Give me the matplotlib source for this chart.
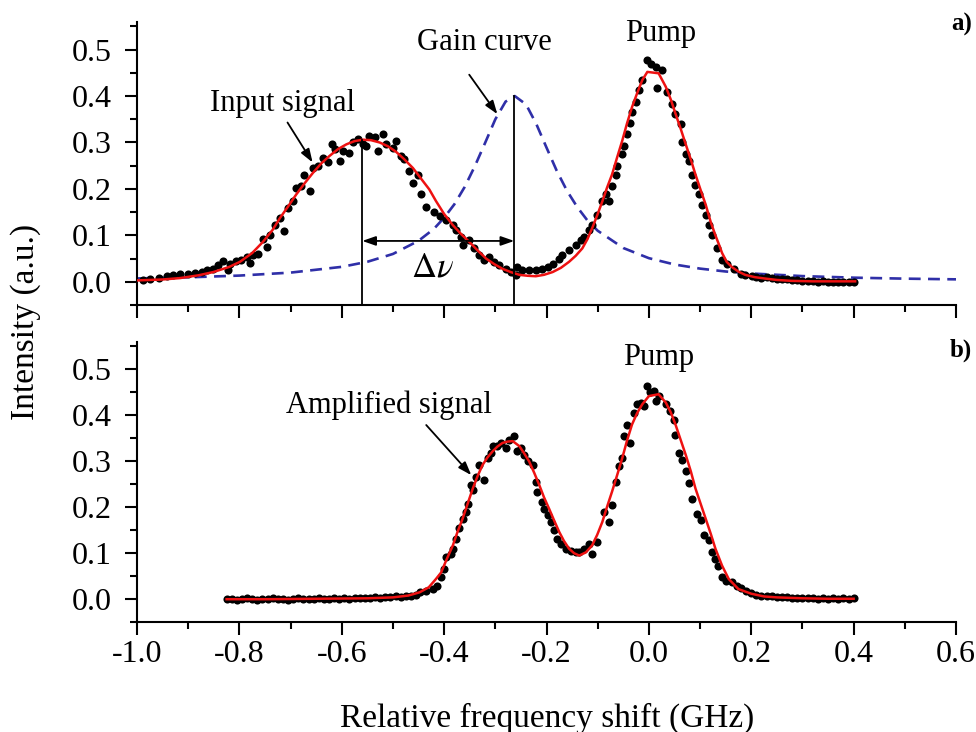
import numpy as np
import matplotlib.pyplot as plt
from matplotlib.ticker import MultipleLocator

plt.rcParams['font.family'] = ['Liberation Serif', 'DejaVu Serif']
plt.rcParams['mathtext.fontset'] = 'stix'

# ---- panel a: measured points (input signal + pump) ----
a_x = [-0.988, -0.975, -0.958, -0.942, -0.929, -0.916, -0.900, -0.887, -0.874, -0.864,
       -0.851, -0.842, -0.832, -0.822, -0.819, -0.806, -0.796, -0.786, -0.780, -0.773,
       -0.764, -0.754, -0.747, -0.741, -0.731, -0.721, -0.713, -0.705, -0.695, -0.689,
       -0.679, -0.673, -0.663, -0.656, -0.647, -0.637, -0.627, -0.620, -0.614, -0.604,
       -0.598, -0.585, -0.578, -0.569, -0.559, -0.552, -0.546, -0.536, -0.530, -0.520,
       -0.513, -0.500, -0.494, -0.484, -0.478, -0.468, -0.461, -0.452, -0.445, -0.435,
       -0.419, -0.409, -0.396, -0.383, -0.377, -0.367, -0.364, -0.351, -0.341, -0.331,
       -0.322, -0.312, -0.302, -0.292, -0.279, -0.270, -0.260, -0.257, -0.247, -0.234,
       -0.221, -0.208, -0.198, -0.188, -0.175, -0.169, -0.156, -0.143, -0.133, -0.127,
       -0.117, -0.111, -0.101, -0.091, -0.084, -0.078, -0.072, -0.065, -0.062, -0.052,
       -0.049, -0.042, -0.036, -0.033, -0.026, -0.019, -0.013, -0.003, 0.005, 0.014,
       0.016, 0.026, 0.036, 0.045, 0.052, 0.062, 0.065, 0.072, 0.078, 0.084,
       0.091, 0.097, 0.104, 0.111, 0.117, 0.123, 0.133, 0.143, 0.153, 0.166,
       0.179, 0.188, 0.201, 0.210, 0.220, 0.230, 0.240, 0.250, 0.260, 0.270,
       0.280, 0.290, 0.300, 0.310, 0.320, 0.330, 0.340, 0.350, 0.360, 0.370,
       0.380, 0.390, 0.400]
a_y = [0.003, 0.007, 0.009, 0.012, 0.014, 0.017, 0.017, 0.020, 0.022, 0.025,
       0.028, 0.036, 0.044, 0.025, 0.039, 0.044, 0.046, 0.054, 0.041, 0.057,
       0.059, 0.093, 0.075, 0.101, 0.122, 0.137, 0.109, 0.159, 0.173, 0.202,
       0.206, 0.231, 0.195, 0.246, 0.249, 0.267, 0.257, 0.296, 0.285, 0.260,
       0.282, 0.278, 0.300, 0.307, 0.296, 0.293, 0.315, 0.311, 0.282, 0.318,
       0.296, 0.289, 0.304, 0.271, 0.264, 0.238, 0.213, 0.231, 0.188, 0.162,
       0.151, 0.141, 0.133, 0.122, 0.112, 0.097, 0.079, 0.090, 0.072, 0.057,
       0.046, 0.054, 0.043, 0.036, 0.028, 0.021, 0.014, 0.032, 0.025, 0.025,
       0.025, 0.028, 0.032, 0.039, 0.050, 0.057, 0.068, 0.079, 0.090, 0.097,
       0.112, 0.122, 0.144, 0.173, 0.188, 0.173, 0.206, 0.231, 0.249, 0.275,
       0.293, 0.318, 0.343, 0.365, 0.387, 0.412, 0.434, 0.478, 0.470, 0.463,
       0.417, 0.456, 0.409, 0.383, 0.362, 0.340, 0.300, 0.275, 0.260, 0.231,
       0.209, 0.188, 0.166, 0.144, 0.122, 0.101, 0.072, 0.046, 0.039, 0.028,
       0.017, 0.014, 0.012, 0.011, 0.009, 0.010, 0.008, 0.007, 0.006, 0.005,
       0.004, 0.003, 0.002, 0.002, 0.001, 0.000, 0.001, 0.000, -0.001, 0.000,
       -0.001, -0.001, 0.000]

# ---- panel a: fitted curve ----
a_fit_x = [-1.000, -0.950, -0.916, -0.880, -0.851, -0.820, -0.799, -0.775, -0.754, -0.735,
           -0.721, -0.705, -0.689, -0.672, -0.656, -0.640, -0.624, -0.607, -0.591, -0.575,
           -0.559, -0.543, -0.526, -0.510, -0.494, -0.478, -0.461, -0.445, -0.429, -0.416,
           -0.400, -0.383, -0.367, -0.351, -0.334, -0.318, -0.302, -0.286, -0.270, -0.253,
           -0.237, -0.221, -0.205, -0.188, -0.172, -0.156, -0.143, -0.130, -0.120, -0.111,
           -0.101, -0.091, -0.082, -0.072, -0.062, -0.052, -0.043, -0.033, -0.023, -0.013,
           -0.003, 0.019, 0.033, 0.043, 0.052, 0.062, 0.072, 0.082, 0.091, 0.101,
           0.111, 0.121, 0.130, 0.137, 0.143, 0.152, 0.162, 0.175, 0.188, 0.207,
           0.227, 0.250, 0.279, 0.320, 0.360, 0.403]
a_fit_y = [0.003, 0.005, 0.008, 0.014, 0.021, 0.032, 0.043, 0.062, 0.086, 0.112,
           0.137, 0.162, 0.188, 0.213, 0.235, 0.255, 0.271, 0.286, 0.296, 0.303,
           0.306, 0.305, 0.300, 0.292, 0.280, 0.264, 0.245, 0.222, 0.199, 0.174,
           0.146, 0.122, 0.103, 0.086, 0.067, 0.050, 0.038, 0.028, 0.021, 0.015,
           0.013, 0.012, 0.015, 0.021, 0.030, 0.043, 0.056, 0.072, 0.092, 0.115,
           0.143, 0.173, 0.202, 0.231, 0.268, 0.304, 0.340, 0.376, 0.406, 0.434,
           0.452, 0.449, 0.420, 0.392, 0.362, 0.330, 0.296, 0.263, 0.231, 0.198,
           0.166, 0.128, 0.100, 0.080, 0.062, 0.043, 0.032, 0.022, 0.015, 0.010,
           0.007, 0.004, 0.002, 0.001, 0.001, 0.001]

# ---- panel a: gain curve ----
gain_x = [-1.00, -0.90, -0.80, -0.70, -0.60, -0.55, -0.50, -0.45, -0.42, -0.40,
          -0.38, -0.36, -0.34, -0.32, -0.30, -0.28, -0.262, -0.24, -0.22, -0.20,
          -0.18, -0.16, -0.14, -0.12, -0.10, -0.05, 0.00, 0.05, 0.10, 0.15,
          0.20, 0.30, 0.40, 0.50, 0.60]
gain_y = [0.0072, 0.0096, 0.0134, 0.0198, 0.0322, 0.0431, 0.0600, 0.0883, 0.114, 0.138,
          0.167, 0.204, 0.249, 0.299, 0.350, 0.388, 0.400, 0.382, 0.340, 0.289,
          0.239, 0.196, 0.161, 0.132, 0.110, 0.0728, 0.0509, 0.0373, 0.0284, 0.0222,
          0.0179, 0.0123, 0.0089, 0.0068, 0.0053]

# ---- panel b: measured points (amplified signal + pump) ----
b_x = [-0.825, -0.815, -0.805, -0.795, -0.785, -0.775, -0.765, -0.755, -0.745, -0.735,
       -0.725, -0.715, -0.705, -0.695, -0.685, -0.675, -0.665, -0.655, -0.645, -0.635,
       -0.625, -0.615, -0.605, -0.595, -0.585, -0.575, -0.565, -0.555, -0.545, -0.535,
       -0.525, -0.515, -0.505, -0.495, -0.485, -0.475, -0.465, -0.455, -0.448, -0.435,
       -0.422, -0.413, -0.406, -0.400, -0.396, -0.387, -0.383, -0.377, -0.370, -0.364,
       -0.357, -0.354, -0.348, -0.344, -0.338, -0.331, -0.322, -0.315, -0.309, -0.305,
       -0.296, -0.289, -0.279, -0.273, -0.263, -0.257, -0.250, -0.244, -0.237, -0.227,
       -0.221, -0.218, -0.208, -0.205, -0.198, -0.192, -0.185, -0.179, -0.172, -0.162,
       -0.153, -0.143, -0.136, -0.127, -0.117, -0.111, -0.101, -0.088, -0.078, -0.072,
       -0.065, -0.058, -0.052, -0.049, -0.042, -0.036, -0.029, -0.023, -0.016, -0.010,
       -0.003, 0.003, 0.010, 0.013, 0.019, 0.033, 0.042, 0.049, 0.052, 0.058,
       0.065, 0.072, 0.078, 0.084, 0.094, 0.101, 0.107, 0.117, 0.123, 0.130,
       0.136, 0.143, 0.150, 0.162, 0.172, 0.180, 0.190, 0.200, 0.210, 0.220,
       0.230, 0.240, 0.250, 0.260, 0.270, 0.280, 0.290, 0.300, 0.310, 0.320,
       0.330, 0.340, 0.350, 0.360, 0.370, 0.380, 0.390, 0.400]
b_y = [0.000, 0.001, -0.001, 0.000, 0.002, 0.000, -0.001, 0.001, 0.000, 0.002,
       0.001, 0.000, -0.001, 0.001, 0.002, 0.000, 0.001, 0.000, 0.002, 0.001,
       0.000, 0.002, 0.001, 0.003, 0.001, 0.002, 0.003, 0.002, 0.003, 0.004,
       0.003, 0.005, 0.004, 0.006, 0.005, 0.008, 0.007, 0.010, 0.015, 0.018,
       0.022, 0.029, 0.048, 0.066, 0.091, 0.099, 0.110, 0.132, 0.154, 0.175,
       0.190, 0.208, 0.248, 0.238, 0.267, 0.292, 0.259, 0.307, 0.318, 0.333,
       0.333, 0.340, 0.329, 0.347, 0.355, 0.322, 0.329, 0.314, 0.300, 0.292,
       0.256, 0.234, 0.212, 0.197, 0.183, 0.168, 0.150, 0.132, 0.121, 0.110,
       0.106, 0.102, 0.102, 0.110, 0.121, 0.099, 0.124, 0.190, 0.168, 0.205,
       0.256, 0.289, 0.307, 0.355, 0.380, 0.340, 0.406, 0.424, 0.428, 0.420,
       0.464, 0.450, 0.453, 0.431, 0.442, 0.424, 0.409, 0.391, 0.358, 0.318,
       0.303, 0.278, 0.252, 0.219, 0.186, 0.172, 0.139, 0.128, 0.102, 0.088,
       0.073, 0.048, 0.040, 0.037, 0.029, 0.025, 0.018, 0.014, 0.010, 0.008,
       0.007, 0.006, 0.005, 0.004, 0.004, 0.003, 0.003, 0.002, 0.002, 0.002,
       0.001, 0.002, 0.001, 0.002, 0.001, 0.002, 0.001, 0.002]

# ---- panel b: fitted curve ----
b_fit_x = [-0.825, -0.750, -0.650, -0.550, -0.500, -0.470, -0.448, -0.430, -0.416, -0.406,
           -0.395, -0.383, -0.374, -0.364, -0.354, -0.344, -0.335, -0.325, -0.315, -0.305,
           -0.296, -0.286, -0.276, -0.266, -0.253, -0.244, -0.234, -0.224, -0.214, -0.205,
           -0.195, -0.185, -0.175, -0.166, -0.156, -0.146, -0.136, -0.123, -0.111, -0.101,
           -0.091, -0.082, -0.072, -0.062, -0.052, -0.043, -0.033, -0.023, -0.013, 0.000,
           0.019, 0.033, 0.043, 0.052, 0.062, 0.072, 0.082, 0.091, 0.101, 0.111,
           0.121, 0.130, 0.143, 0.156, 0.175, 0.200, 0.225, 0.250, 0.300, 0.350,
           0.400]
b_fit_y = [0.000, 0.000, 0.001, 0.002, 0.004, 0.008, 0.015, 0.026, 0.044, 0.058,
           0.087, 0.117, 0.146, 0.175, 0.208, 0.241, 0.267, 0.292, 0.309, 0.322,
           0.332, 0.340, 0.343, 0.344, 0.333, 0.318, 0.300, 0.275, 0.248, 0.222,
           0.197, 0.171, 0.146, 0.127, 0.110, 0.100, 0.095, 0.102, 0.117, 0.140,
           0.168, 0.200, 0.234, 0.270, 0.307, 0.344, 0.380, 0.405, 0.424, 0.442,
           0.446, 0.428, 0.406, 0.380, 0.347, 0.314, 0.278, 0.241, 0.208, 0.175,
           0.142, 0.110, 0.073, 0.044, 0.022, 0.012, 0.006, 0.004, 0.002, 0.001,
           0.001]

fig = plt.figure(figsize=(9.76, 7.32), dpi=100)
ax1 = fig.add_axes([0.1404, 0.5833, 0.8391, 0.387])
ax2 = fig.add_axes([0.1404, 0.150, 0.8391, 0.383])

for ax in (ax1, ax2):
    ax.set_xlim(-1.0, 0.6)
    ax.set_ylim(-0.05, 0.56)
    ax.spines['top'].set_visible(False)
    ax.spines['right'].set_visible(False)
    for s in ('left', 'bottom'):
        ax.spines[s].set_linewidth(1.5)
    ax.xaxis.set_major_locator(MultipleLocator(0.2))
    ax.xaxis.set_minor_locator(MultipleLocator(0.1))
    ax.yaxis.set_major_locator(MultipleLocator(0.1))
    ax.yaxis.set_minor_locator(MultipleLocator(0.05))
    ax.tick_params(which='major', direction='out', length=9, width=1.5, labelsize=23)
    ax.tick_params(which='minor', direction='out', length=5, width=1.5)
    ax.tick_params(axis='y', which='major', pad=9)
    ax.yaxis.set_major_formatter(plt.FormatStrFormatter('%.1f'))
    ax.xaxis.set_major_formatter(plt.FormatStrFormatter('%.1f'))
ax1.tick_params(labelbottom=False)

arrow = dict(arrowstyle='-|>,head_length=0.8,head_width=0.28',
             color='black', lw=1.3, shrinkA=0, shrinkB=0)

# panel a
ax1.plot(gain_x, gain_y, color='#2f2fa8', lw=1.9, ls=(0, (4.5, 2.8)), zorder=2)
ax1.scatter(a_x, a_y, s=34, color='black', zorder=3, linewidths=0)
ax1.plot(a_fit_x, a_fit_y, color='#ee1111', lw=1.8, zorder=4)
ax1.plot([-0.56, -0.56], [-0.05, 0.306], color='black', lw=1.3, zorder=5)
ax1.plot([-0.263, -0.263], [-0.05, 0.400], color='black', lw=1.3, zorder=5)
ax1.annotate('', xy=(-0.56, 0.088), xytext=(-0.263, 0.088),
             arrowprops=dict(arrowstyle='<|-|>,head_length=0.8,head_width=0.28',
                             color='black', lw=1.3, shrinkA=0, shrinkB=0), zorder=5)
ax1.text(-0.422, 0.030, r'$\Delta\nu$', fontsize=25, ha='center', va='center')

ax1.text(-0.715, 0.383, 'Input signal', fontsize=22, ha='center', va='center')
ax1.annotate('', xy=(-0.657, 0.257), xytext=(-0.706, 0.343), arrowprops=arrow)
ax1.text(-0.322, 0.515, 'Gain curve', fontsize=22, ha='center', va='center')
ax1.annotate('', xy=(-0.296, 0.361), xytext=(-0.351, 0.446), arrowprops=arrow)
ax1.text(0.023, 0.535, 'Pump', fontsize=22, ha='center', va='center')

# panel b
ax2.scatter(b_x, b_y, s=34, color='black', zorder=3, linewidths=0)
ax2.plot(b_fit_x, b_fit_y, color='#ee1111', lw=1.8, zorder=4)
ax2.text(-0.507, 0.421, 'Amplified signal', fontsize=22, ha='center', va='center')
ax2.annotate('', xy=(-0.347, 0.270), xytext=(-0.435, 0.379), arrowprops=arrow)
ax2.text(0.019, 0.527, 'Pump', fontsize=22, ha='center', va='center')

fig.text(0.996, 0.966, 'a)', fontsize=18, fontweight='bold', ha='right', va='center')
fig.text(0.996, 0.522, 'b)', fontsize=18, fontweight='bold', ha='right', va='center')
fig.text(0.026, 0.56, 'Intensity (a.u.)', fontsize=24, rotation=90, ha='center', va='center')
fig.text(0.561, 0.019, 'Relative frequency shift (GHz)', fontsize=24, ha='center', va='center')

fig.savefig('out.png', dpi=100)
